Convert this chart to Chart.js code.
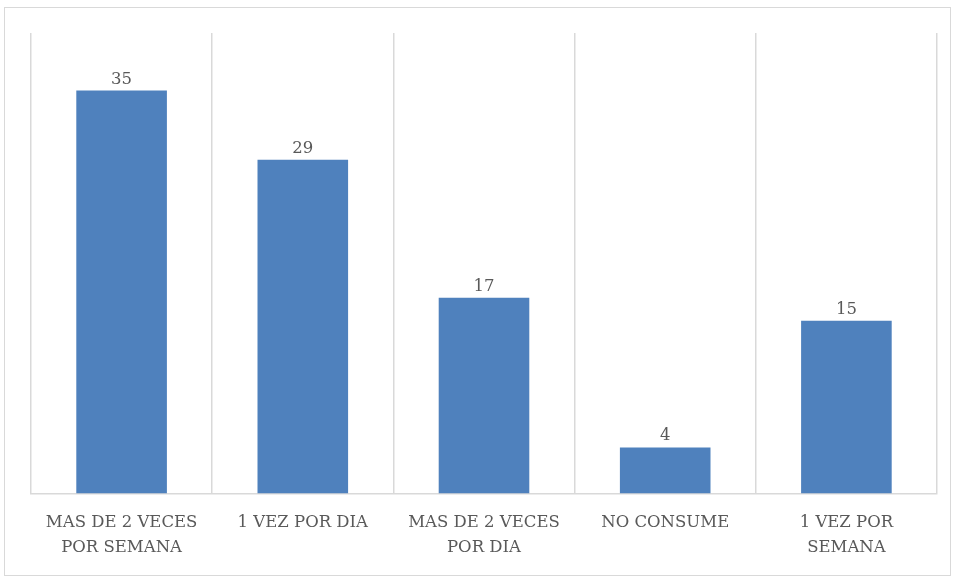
<!DOCTYPE html>
<html>
<head>
<meta charset="utf-8">
<script src="https://cdn.jsdelivr.net/npm/chart.js@4"></script>
<style>
  html, body { margin: 0; padding: 0; background: #fff; }
  #frame { position: absolute; left: 4px; top: 7px; width: 945px; height: 567px; border: 1px solid #d9d9d9; }
  #wrap { position: absolute; left: 0; top: 0; width: 954px; height: 579px; }
</style>
</head>
<body>
<div id="frame"></div>
<div id="wrap"><canvas id="c"></canvas></div>
<script>
// categorías y valores
const categories = [
    ['MAS DE 2 VECES', 'POR SEMANA'],
    '1 VEZ POR DIA',
    ['MAS DE 2 VECES', 'POR DIA'],
    'NO CONSUME',
    ['1 VEZ POR', 'SEMANA']
];
const values = [35, 29, 17, 4, 15];
const yMax = 40;

const textColor = '#595959';
const gridColor = '#d9d9d9';
const fontFamily = '"DejaVu Serif", "Liberation Serif", serif';

// etiquetas de valor encima de cada barra
const valueLabels = {
    id: 'valueLabels',
    afterDatasetsDraw(chart) {
        const ctx = chart.ctx;
        const meta = chart.getDatasetMeta(0);
        ctx.save();
        ctx.fillStyle = textColor;
        ctx.font = '16.5px ' + fontFamily;
        ctx.textAlign = 'center';
        ctx.textBaseline = 'bottom';
        meta.data.forEach((bar, i) => {
            ctx.fillText(String(values[i]), bar.x, bar.y - 3);
        });
        ctx.restore();
    }
};

new Chart(document.getElementById('c').getContext('2d'), {
    type: 'bar',
    data: {
        labels: categories,
        datasets: [{
            data: values,
            backgroundColor: '#4f81bd',
            borderWidth: 0,
            categoryPercentage: 1,
            barPercentage: 0.5
        }]
    },
    options: {
        responsive: true,
        maintainAspectRatio: false,
        animation: false,
        layout: { padding: { left: 31, right: 17, top: 33, bottom: 2 } },
        plugins: {
            legend: { display: false },
            tooltip: { enabled: false }
        },
        scales: {
            x: {
                offset: true,
                grid: {
                    offset: true,
                    color: gridColor,
                    lineWidth: 1.5,
                    drawTicks: false
                },
                border: { color: gridColor, width: 1.5 },
                ticks: {
                    color: textColor,
                    padding: 17,
                    maxRotation: 0,
                    autoSkip: false,
                    font: { size: 16.5, family: fontFamily, lineHeight: 1.5 }
                }
            },
            y: {
                display: false,
                min: 0,
                max: yMax
            }
        }
    },
    plugins: [valueLabels]
});
</script>
</body>
</html>
